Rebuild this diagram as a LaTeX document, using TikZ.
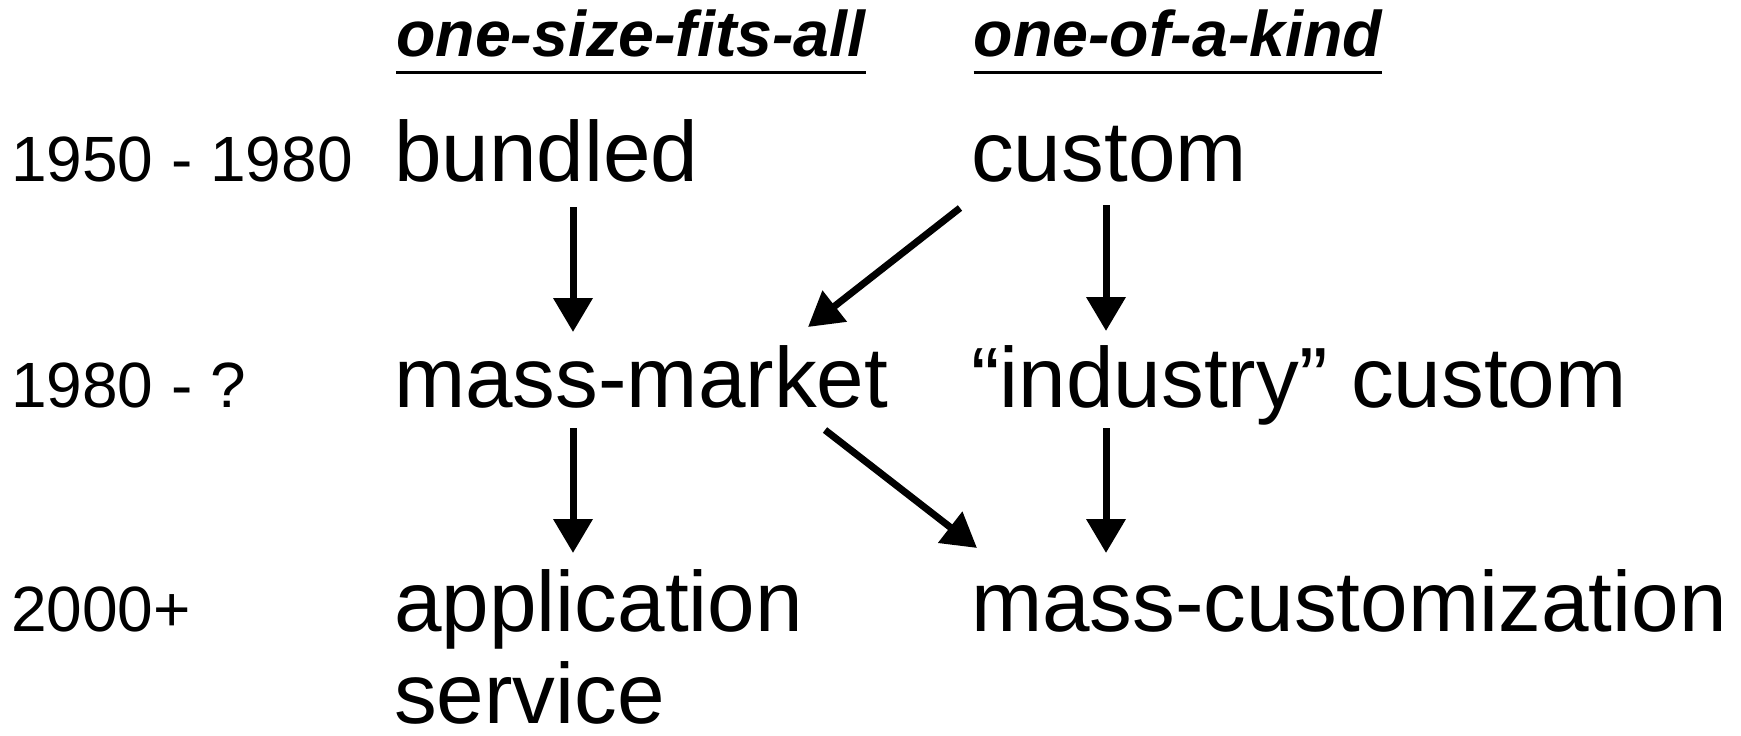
\documentclass[tikz,border=0pt]{standalone}
\usepackage{fontspec}
\setmainfont{Liberation Sans}
\usetikzlibrary{arrows.meta,calc}
\begin{document}
\begin{tikzpicture}[x=1pt,y=-1pt,
  yearlbl/.style={anchor=base west,inner sep=0pt,font=\fontsize{64}{70}\selectfont},
  item/.style={anchor=base west,inner sep=0pt,font=\fontsize{85.5}{91}\selectfont},
  head/.style={anchor=base west,inner sep=0pt,font=\fontsize{64.5}{70}\selectfont\bfseries\itshape},
  uline/.style={line width=3pt},
  arr/.style={line width=7pt,-{Triangle[length=34pt,width=38pt]}}]
\fill[white] (0,0) rectangle (1741,736);
\useasboundingbox (0,0) rectangle (1741,736);
% headers
\node[head] (h1) at (396,56) {one-size-fits-all};
\node[head] (h2) at (973.5,56) {one-of-a-kind};
\draw[uline] ($(h1.base west)+(0,16)$) -- ($(h1.base east)+(0,16)$);
\draw[uline] ($(h2.base west)+(0,16)$) -- ($(h2.base east)+(0,16)$);
% years
\node[yearlbl] (y1) at (11,181) {1950 - 1980};
\node[yearlbl] (y2) at (11,407) {1980 - ?};
\node[yearlbl] (y3) at (11,631) {2000+};
% items
\node[item] (bundled) at (394,181) {bundled};
\node[item] (custom) at (971,181) {custom};
\node[item] (mm) at (394,407) {mass-market};
\node[item] (ind) at (971,407) {“industry” custom};
\node[item] (app) at (394,631) {\vtop{\baselineskip=92pt\hbox{application}\hbox{service}}};
\node[item] (mc) at (971,631) {mass-customization};
% arrows
\draw[arr] ($(bundled.base west)+(179,26)$) -- ($(mm.base west)+(179,-75)$);
\draw[arr] ($(custom.base west)+(-11,27)$) -- ($(mm.base west)+(414,-80)$);
\draw[arr] ($(custom.base west)+(135,24)$) -- ($(ind.base west)+(135,-76)$);
\draw[arr] ($(mm.base west)+(179,21)$) -- ($(app.base west)+(179,-78)$);
\draw[arr] ($(mm.base west)+(431,23)$) -- ($(mc.base west)+(6,-83)$);
\draw[arr] ($(ind.base west)+(135,21)$) -- ($(mc.base west)+(135,-78)$);
\end{tikzpicture}
\end{document}
